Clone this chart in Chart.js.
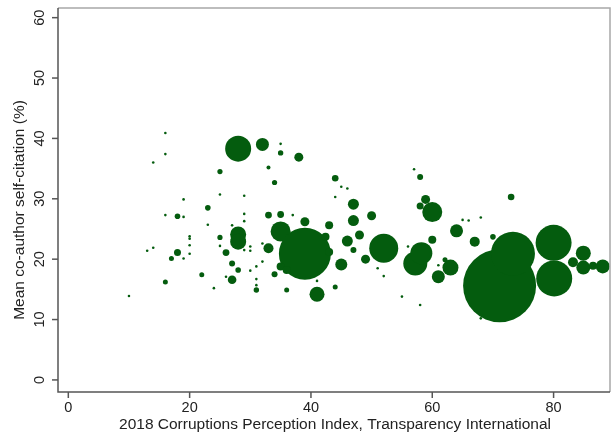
<!DOCTYPE html>
<html lang="en">
<head>
    <meta charset="UTF-8">
    <title>Self-citation vs CPI</title>
    <script src="https://cdn.jsdelivr.net/npm/chart.js"></script>
    <style>
        body {
            margin: 0;
            padding: 0;
            background: #fff;
        }

        .chart-box {
            width: 611px;
            height: 434px;
        }
    </style>
</head>
<body>
    <div class="chart-box">
        <canvas id="bubbles"></canvas>
    </div>

    <script>
        // CPI score, mean co-author self-citation (%), bubble size
        const cpi = [16, 16, 14, 19, 23, 16, 18, 19, 23, 20, 20, 20, 13, 14, 18, 20, 17, 19, 22, 16, 10,
            28, 25, 25, 29, 29, 27, 29, 28, 28, 25, 25, 26, 27, 28, 27, 26, 29, 30, 30, 24,
            32, 35, 35, 38, 33, 34, 33, 35, 37, 39, 43, 35, 39, 33, 30, 32, 32, 31, 31, 31, 31, 36, 41, 41,
            34, 35, 36, 42.4, 43, 44, 45, 46, 44, 47, 47, 50, 46, 48, 47, 52, 49, 45, 44, 51, 52, 55,
            57, 58, 58.9, 60, 58, 56, 57.2, 58.2, 60, 61, 61, 62.1, 63, 58, 64, 65, 66, 68, 67, 70, 73,
            71.1, 73.3, 80, 80.1, 84.9, 84.9, 83.2, 86.5, 88.1, 68];
        const selfCite = [40.9, 37.4, 36.0, 29.9, 28.5, 27.3, 27.1, 27.0, 25.7, 23.8, 23.4, 22.3, 21.4, 21.9, 21.1, 20.9, 20.1, 20.1, 17.4, 16.2, 13.9,
            38.3, 34.5, 30.7, 30.5, 27.5, 25.6, 26.3, 24.1, 22.9, 23.6, 22.2, 21.1, 19.3, 18.2, 16.6, 17.1, 21.5, 22.1, 18.1, 15.2,
            39.0, 39.1, 37.6, 36.9, 35.2, 32.7, 27.3, 27.4, 27.3, 26.2, 25.6, 24.6, 20.9, 21.8, 21.4, 22.6, 19.6, 18.8, 16.7, 15.7, 14.9, 14.9, 16.4, 14.2,
            17.5, 18.8, 18.2, 23.7, 21.2, 33.4, 32.0, 31.7, 30.3, 29.1, 26.4, 27.2, 23.0, 24.0, 21.5, 21.8, 20.0, 19.1, 15.4, 18.5, 17.2, 13.8,
            34.9, 33.6, 29.9, 27.8, 28.8, 22.1, 19.3, 21.0, 23.2, 19.0, 17.1, 19.9, 18.6, 12.4, 24.7, 26.5, 26.4, 26.9, 22.9, 23.7, 30.3,
            15.6, 20.9, 22.7, 16.8, 21.0, 18.6, 19.5, 18.9, 18.8, 10.2];
        const sizes = [1.3, 1.3, 1.3, 1.3, 2.8, 1.3, 2.8, 1.3, 1.3, 1.3, 1.3, 1.3, 1.3, 1.3, 3.5, 1.3, 2.5, 1.3, 2.5, 2.5, 1.3,
            13, 2.6, 1.3, 1.3, 1.3, 1.3, 1.3, 8, 8, 2.6, 1.3, 3.4, 3, 2.8, 4.3, 1.3, 1.3, 1.3, 1.3, 1.3,
            6.5, 1.3, 2.7, 4.5, 2, 2.6, 3.4, 3.4, 1.3, 4.5, 4, 10, 26, 5, 1.3, 1.3, 1.3, 1.3, 1.3, 1.3, 2.7, 2.5, 1.3, 7.5,
            3, 4, 4, 4, 4, 3.3, 1.3, 1.3, 1.3, 5.5, 5.5, 4.5, 5.5, 4.5, 3, 14.5, 4.5, 6, 2.5, 1.3, 1.3, 1.3,
            1.3, 3, 4.5, 10, 3.5, 1.3, 12, 11, 4, 1.3, 6.5, 2.5, 8, 1.3, 6.5, 1.3, 1.3, 1.3, 5, 2.8, 3.3,
            36.5, 22, 18, 18, 7.5, 7, 5, 4, 7, 1.3];

        const xTicks = [0, 20, 40, 60, 80];
        const yTicks = [0, 10, 20, 30, 40, 50, 60];

        const xTitle = '2018 Corruptions Perception Index, Transparency International';
        const yTitle = 'Mean co-author self-citation (%)';

        const points = cpi.map((x, i) => ({ x: x, y: selfCite[i], r: sizes[i] }));

        // frame, ticks and rotated labels drawn by hand (Stata look)
        const axesPlugin = {
            id: 'stataAxes',
            afterDraw(chart) {
                const c = chart.ctx;
                const a = chart.chartArea;
                const sx = chart.scales.x;
                const sy = chart.scales.y;
                c.save();

                // light top/right border
                c.strokeStyle = '#a8a8a8';
                c.lineWidth = 1.5;
                c.beginPath();
                c.moveTo(a.left, a.top);
                c.lineTo(a.right, a.top);
                c.lineTo(a.right, a.bottom);
                c.stroke();

                // axis lines
                c.strokeStyle = '#555';
                c.lineWidth = 1.5;
                c.beginPath();
                c.moveTo(a.left, a.top);
                c.lineTo(a.left, a.bottom);
                c.lineTo(a.right, a.bottom);
                c.stroke();

                c.fillStyle = '#222';
                c.font = '14.5px "Liberation Sans", Arial, sans-serif';

                // x ticks
                c.textAlign = 'center';
                c.textBaseline = 'middle';
                xTicks.forEach(v => {
                    const px = sx.getPixelForValue(v);
                    c.beginPath();
                    c.moveTo(px, a.bottom);
                    c.lineTo(px, a.bottom + 6);
                    c.stroke();
                    c.fillText(String(v), px, a.bottom + 16);
                });

                // y ticks (labels rotated)
                yTicks.forEach(v => {
                    const py = sy.getPixelForValue(v);
                    c.beginPath();
                    c.moveTo(a.left, py);
                    c.lineTo(a.left - 6, py);
                    c.stroke();
                    c.save();
                    c.translate(a.left - 18, py);
                    c.rotate(-Math.PI / 2);
                    c.fillText(String(v), 0, 0);
                    c.restore();
                });

                // titles
                c.font = '15.5px "Liberation Sans", Arial, sans-serif';
                c.fillText(xTitle, (a.left + a.right) / 2 + 1, a.bottom + 33);
                c.save();
                c.translate(20, (a.top + a.bottom) / 2 + 10);
                c.rotate(-Math.PI / 2);
                c.fillText(yTitle, 0, 0);
                c.restore();

                c.restore();
            }
        };

        const ctx = document.getElementById('bubbles').getContext('2d');
        new Chart(ctx, {
            type: 'bubble',
            data: {
                datasets: [{
                    label: 'Countries',
                    data: points,
                    backgroundColor: '#045c0e',
                    borderColor: '#045c0e',
                    borderWidth: 0,
                    hoverRadius: 0
                }]
            },
            options: {
                responsive: true,
                maintainAspectRatio: false,
                animation: false,
                layout: {
                    autoPadding: false,
                    padding: { left: 58, right: 1, top: 8, bottom: 42 }
                },
                plugins: {
                    legend: { display: false },
                    tooltip: { enabled: false }
                },
                scales: {
                    x: { type: 'linear', display: false, min: -1.7, max: 89.3 },
                    y: { type: 'linear', display: false, min: -2, max: 61.6 }
                }
            },
            plugins: [axesPlugin]
        });
    </script>
</body>
</html>
